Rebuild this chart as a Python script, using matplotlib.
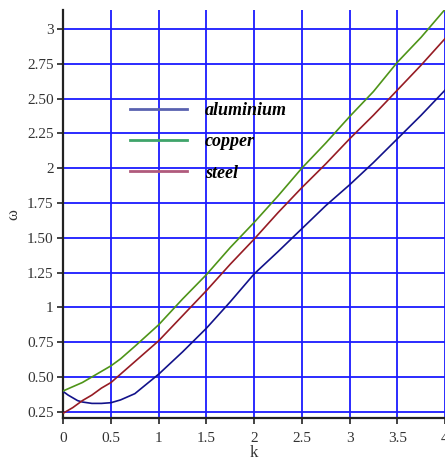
import numpy as np
import matplotlib
matplotlib.use('Agg')
import matplotlib.pyplot as plt
from matplotlib.lines import Line2D

plt.rcParams['font.family'] = ['Liberation Serif', 'DejaVu Serif']

# values
k = [0, 0.05, 0.1, 0.15, 0.2, 0.3, 0.4, 0.5, 0.6, 0.75, 1.0, 1.25, 1.5, 1.75, 2.0,
     2.25, 2.5, 2.75, 3.0, 3.25, 3.5, 3.75, 4.0]
aluminium = [0.395, 0.37, 0.35, 0.33, 0.32, 0.31, 0.31, 0.315, 0.335, 0.38, 0.52, 0.68,
             0.85, 1.04, 1.24, 1.40, 1.565, 1.73, 1.88, 2.04, 2.21, 2.38, 2.56]
copper = [0.40, 0.415, 0.43, 0.445, 0.46, 0.50, 0.54, 0.58, 0.63, 0.72, 0.875, 1.06,
          1.235, 1.43, 1.61, 1.80, 2.0, 2.18, 2.37, 2.55, 2.76, 2.94, 3.14]
steel = [0.24, 0.26, 0.28, 0.305, 0.33, 0.37, 0.42, 0.46, 0.52, 0.61, 0.76, 0.94,
         1.12, 1.31, 1.49, 1.68, 1.86, 2.03, 2.21, 2.38, 2.56, 2.74, 2.93]

xticks = [0, 0.5, 1, 1.5, 2, 2.5, 3, 3.5, 4]
xlabels = ['0', '0.5', '1', '1.5', '2', '2.5', '3', '3.5', '4']
yticks = [0.25, 0.5, 0.75, 1, 1.25, 1.5, 1.75, 2, 2.25, 2.5, 2.75, 3]
ylabels = ['0.25', '0.50', '0.75', '1', '1.25', '1.50', '1.75', '2', '2.25', '2.50', '2.75', '3']

names = ['aluminium', 'copper', 'steel']
line_colors = ['#12128a', '#4e9418', '#961c24']
legend_colors = ['#5a62b0', '#3fa46a', '#b05a7c']

fig = plt.figure(figsize=(4.45, 4.62), dpi=100)
ax = fig.add_axes([0.1422, 0.0946, 0.8578, 0.8838])

for y, c in zip([aluminium, copper, steel], line_colors):
    ax.plot(k, y, color=c, lw=1.2, zorder=3)

ax.set_xlim(0, 4)
ax.set_ylim(0.203, 3.136)
ax.set_xticks(xticks)
ax.set_xticklabels(xlabels)
ax.set_yticks(yticks)
ax.set_yticklabels(ylabels)
ax.grid(True, color='#1a1aff', lw=1.3)
ax.set_axisbelow(True)

for s in ['top', 'right']:
    ax.spines[s].set_visible(False)
for s in ['left', 'bottom']:
    ax.spines[s].set_linewidth(1.6)
    ax.spines[s].set_color('#222222')
ax.tick_params(direction='out', length=4, width=1.2, color='#222222',
               labelsize=11, labelcolor='#333333', pad=3)
ax.tick_params(axis='x', pad=6)

ax.set_xlabel('k', fontsize=12, color='#333333', labelpad=0)
ax.set_ylabel('ω', fontsize=12, color='#333333', labelpad=4)

handles = [Line2D([], [], color=c, lw=2) for c in legend_colors]
leg = ax.legend(handles, names, loc='upper left', bbox_to_anchor=(0.133, 0.814),
                frameon=False, handlelength=3.15, handletextpad=1.0,
                labelspacing=0.79,
                prop={'style': 'italic', 'weight': 'bold', 'size': 13})

fig.savefig('out.png', dpi=100)
